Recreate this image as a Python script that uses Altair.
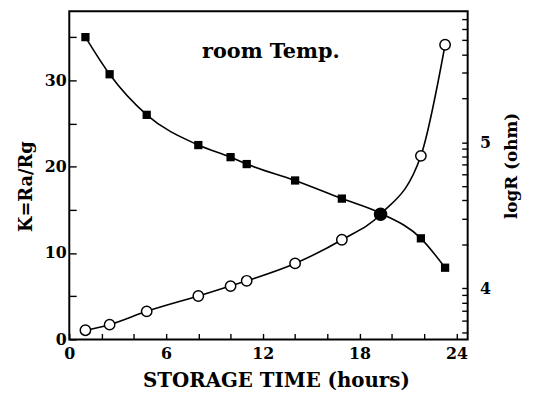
import altair as alt
import pandas as pd

# values
hours = [1.0, 2.5, 4.8, 8.0, 10.0, 11.0, 14.0, 16.9, 19.3, 21.8, 23.3]
k_ratio = [35.0, 30.7, 26.0, 22.5, 21.1, 20.3, 18.4, 16.3, 14.6, 11.7, 8.3]
log_r = [3.714, 3.752, 3.843, 3.948, 4.016, 4.052, 4.171, 4.333, 4.507, 4.907, 5.667]

x_ticks = [0, 2, 4, 6, 8, 10, 12, 14, 16, 18, 20, 22, 24]
k_ticks = [0, 5, 10, 15, 20, 25, 30, 35]
r_ticks = [5000, 6000, 7000, 8000, 9000,
           10000, 20000, 30000, 40000, 50000, 60000, 70000, 80000, 90000,
           100000, 200000, 300000, 400000, 500000, 600000, 700000]

note_text = "room Temp."
note_t = 12.5
note_k = 33.3

df = pd.DataFrame({"t": hours, "K": k_ratio, "R": [10 ** v for v in log_r]})

FONT = "DejaVu Serif"
W, H = 403, 332

common_axis = dict(
    grid=False, domain=False, tickWidth=1.4, zindex=1, tickColor="black",
    labelColor="black", labelFont=FONT, labelFontWeight="bold", labelFontSize=16,
    titleColor="black", titleFont=FONT, titleFontWeight="bold",
    labelOverlap=False, labelFlush=False,
    titleAlign="center", titleBaseline="middle",
)

x_enc = alt.X(
    "t:Q",
    scale=alt.Scale(domain=[0, 24.7], nice=False, zero=False),
    axis=alt.Axis(
        values=x_ticks, orient="bottom", offset=-6, tickSize=6, labelPadding=6,
        labelExpr="datum.value % 6 == 0 ? datum.label : ''",
        title="STORAGE TIME (hours)", titleX=209, titleY=48, titleFontSize=20,
        **common_axis,
    ),
)

y_left = alt.Y(
    "K:Q",
    scale=alt.Scale(domain=[0, 38], nice=False),
    axis=alt.Axis(
        values=k_ticks, orient="left", offset=-7, tickSize=7, labelPadding=3,
        labelExpr="datum.value % 10 == 0 ? datum.label : ''",
        title="K=Ra/Rg", titleX=-50, titleY=177, titleAngle=-90, titleFontSize=18,
        **common_axis,
    ),
)

y_right = alt.Y(
    "R:Q",
    scale=alt.Scale(type="log", domain=[4480, 788000], nice=False),
    axis=alt.Axis(
        values=r_ticks, orient="right", offset=-6, tickSize=6, labelPadding=12,
        labelExpr="datum.value == 10000 ? '4' : (datum.value == 100000 ? '5' : '')",
        title="logR (ohm)", titleX=50, titleY=156, titleAngle=-90, titleFontSize=17,
        **common_axis,
    ),
)

base = alt.Chart(df)

k_line = base.mark_line(color="black", strokeWidth=1.6, interpolate="monotone").encode(x=x_enc, y=y_left)
k_pts = base.mark_point(shape="square", filled=True, color="black", size=70, opacity=1).encode(x=x_enc, y=y_left)
note = alt.Chart(pd.DataFrame({"t": [note_t], "K": [note_k], "s": [note_text]})).mark_text(
    font=FONT, fontSize=21, fontWeight="bold", color="black"
).encode(x=x_enc, y=y_left, text="s:N")

left = alt.layer(k_line, k_pts, note)

r_line = base.mark_line(color="black", strokeWidth=1.6, interpolate="monotone").encode(x=x_enc, y=y_right)
r_pts = base.mark_point(shape="circle", filled=True, stroke="black", strokeWidth=1.5, opacity=1).encode(
    x=x_enc, y=y_right,
    fill=alt.condition("datum.t == 19.3", alt.value("black"), alt.value("white")),
    size=alt.condition("datum.t == 19.3", alt.value(150), alt.value(110)),
)
right = alt.layer(r_line, r_pts)

chart = alt.layer(left, right).resolve_scale(y="independent").properties(
    width=W, height=H,
    autosize="none",
    padding={"left": 62, "top": 1, "right": 58, "bottom": 52},
).configure_view(stroke="black", strokeWidth=2)

chart.save("out.html", embed_options={"renderer": "svg", "actions": False})
